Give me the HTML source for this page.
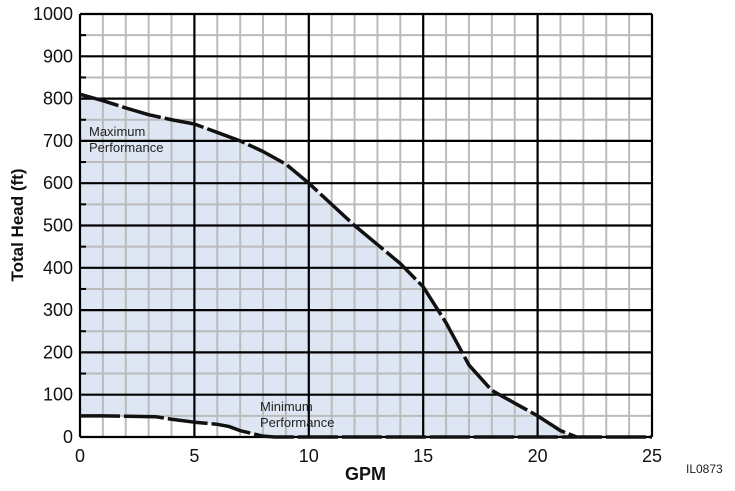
<!DOCTYPE html>
<html><head><meta charset="utf-8"><style>
body{margin:0;background:#fff;font-family:"Liberation Sans",sans-serif}
svg{display:block}
</style></head><body>
<svg id="c" width="735" height="491"></svg>
<script>
const xTicks=[0,5,10,15,20,25];
const yTicks=[0,100,200,300,400,500,600,700,800,900,1000];
const maxGpm=[0,1,2,3,4,5,6,7,8,9,10,11,12,13,14,15,16,17,18,19,20,21,21.7];
const maxHead=[810,795,778,762,750,740,720,700,675,645,600,550,500,455,410,355,270,170,110,80,50,15,0];
const minGpm=[0,1,2,3.3,4,5,6,6.5,7,8,8.5];
const minHead=[50,50,49,48,42,35,30,25,15,2,0];
const X0=80,X1=652,Y0=437,Y1=14;
const sx=v=>X0+v/25*(X1-X0), sy=v=>Y0-v/1000*(Y0-Y1);
const svg=document.getElementById('c');const NS='http://www.w3.org/2000/svg';
function mk(t,a,p){const e=document.createElementNS(NS,t);for(const k in a)e.setAttribute(k,a[k]);(p||svg).appendChild(e);return e;}
let pts=maxGpm.map((g,i)=>sx(g)+','+sy(maxHead[i]));
for(let i=minGpm.length-1;i>=0;i--)pts.push(sx(minGpm[i])+','+sy(minHead[i]));
const area=mk('polygon',{points:pts.join(' '),fill:'#dfe6f3'});


for(let g=1;g<25;g++){if(g%5)mk('line',{x1:sx(g),x2:sx(g),y1:Y1,y2:Y0,stroke:'#bbb','stroke-width':2});}
for(let h=50;h<1000;h+=100){mk('line',{x1:X0,x2:X1,y1:sy(h),y2:sy(h),stroke:'#bbb','stroke-width':2});mk('line',{x1:X0,x2:X0+6,y1:sy(h),y2:sy(h),stroke:'#000','stroke-width':2});}
xTicks.forEach(g=>{mk('line',{x1:sx(g),x2:sx(g),y1:Y1,y2:Y0,stroke:'#000','stroke-width':2.2});
 const t=mk('text',{x:sx(g),y:462,'text-anchor':'middle','font-size':18,fill:'#111'});t.textContent=g;
 });
yTicks.forEach(h=>{mk('line',{x1:X0,x2:X1,y1:sy(h),y2:sy(h),stroke:'#000','stroke-width':2.2});
 const t=mk('text',{x:73,y:sy(h)+6,'text-anchor':'end','font-size':18,fill:'#111'});t.textContent=h;
 });
const mx=mk('polyline',{points:maxGpm.map((g,i)=>sx(g)+','+sy(maxHead[i])).join(' '),fill:'none',stroke:'#111','stroke-width':3.5,'stroke-dasharray':'40 4','stroke-linejoin':'round'});

const mn=mk('polyline',{points:minGpm.map((g,i)=>sx(g)+','+sy(minHead[i])).join(' ')+' '+sx(25)+','+sy(0),fill:'none',stroke:'#111','stroke-width':3.5,'stroke-dasharray':'40 4','stroke-linejoin':'round'});

</script>
<div style="position:absolute;left:0;top:0;width:735px;height:491px;pointer-events:none">
<div style="position:absolute;left:89px;top:124px;font-size:13px;line-height:16px;color:#222">Maximum<br>Performance</div>
<div style="position:absolute;left:260px;top:399px;font-size:13px;line-height:16px;color:#222">Minimum<br>Performance</div>
<div style="position:absolute;left:345px;top:464px;font-size:18px;font-weight:bold;color:#111">GPM</div>
<div style="position:absolute;left:-62px;top:215px;width:160px;text-align:center;transform:rotate(-90deg);transform-origin:center;font-size:17px;font-weight:bold;color:#111">Total Head (ft)</div>
<div style="position:absolute;left:686px;top:462px;font-size:12px;color:#222">IL0873</div>
</div>
</body></html>
